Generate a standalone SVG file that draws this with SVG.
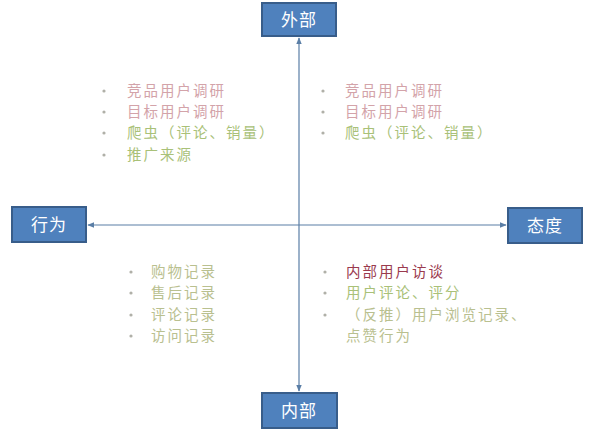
<svg xmlns="http://www.w3.org/2000/svg" width="599" height="432" viewBox="0 0 599 432">
<style>
.box{fill:#4f81bd;stroke:#385d8a;stroke-width:2}
.bt{font-family:"Noto Sans CJK SC","Liberation Sans",sans-serif;font-size:17px;fill:#ffffff;text-anchor:middle;letter-spacing:1px}
.t{font-family:"Noto Sans CJK SC","Liberation Sans",sans-serif;font-size:14.5px;letter-spacing:2px}
.pink{fill:#d3a3a9}
.green{fill:#a9c178}
.lg{fill:#b9c08f}
.red{fill:#9a3a4e}
.dot{fill:#b0b0a8}
.ax{stroke:#5a7ea6;stroke-width:1.2;fill:none}
</style>
<defs>
<marker id="ah" viewBox="0 0 10 10" refX="9" refY="5" markerWidth="7" markerHeight="7" orient="auto-start-reverse" markerUnits="userSpaceOnUse">
<path d="M0,1 L10,5 L0,9 z" fill="#5a7ea6"/>
</marker>
</defs>
<rect width="599" height="432" fill="#ffffff"/>
<g id="connectors">
<line class="ax" x1="299" y1="38" x2="299" y2="391" marker-start="url(#ah)" marker-end="url(#ah)"/>
<line class="ax" x1="88" y1="225" x2="506" y2="225" marker-start="url(#ah)" marker-end="url(#ah)"/>
</g>
<g id="node-top">
<rect class="box" x="262" y="3" width="74" height="33"/>
<text class="bt" x="299" y="26">外部</text>
</g>
<g id="node-left">
<rect class="box" x="12" y="207" width="74" height="35"/>
<text class="bt" x="49" y="231">行为</text>
</g>
<g id="node-right">
<rect class="box" x="508" y="208" width="74" height="35"/>
<text class="bt" x="545" y="232">态度</text>
</g>
<g id="node-bottom">
<rect class="box" x="262" y="393" width="75" height="35"/>
<text class="bt" x="299" y="417">内部</text>
</g>
<g id="list-top-left">
<circle class="dot" cx="104" cy="91" r="1.6"/><text class="t pink" x="127" y="96">竞品用户调研</text>
<circle class="dot" cx="104" cy="112" r="1.6"/><text class="t pink" x="127" y="117">目标用户调研</text>
<circle class="dot" cx="104" cy="133" r="1.6"/><text class="t green" x="127" y="138">爬虫（评论、销量）</text>
<circle class="dot" cx="104" cy="155" r="1.6"/><text class="t green" x="127" y="160">推广来源</text>
</g>
<g id="list-top-right">
<circle class="dot" cx="323" cy="91" r="1.6"/><text class="t pink" x="345" y="96">竞品用户调研</text>
<circle class="dot" cx="323" cy="112" r="1.6"/><text class="t pink" x="345" y="117">目标用户调研</text>
<circle class="dot" cx="323" cy="133" r="1.6"/><text class="t green" x="345" y="138">爬虫（评论、销量）</text>
</g>
<g id="list-bottom-left">
<circle class="dot" cx="131" cy="272" r="1.6"/><text class="t lg" x="151" y="277">购物记录</text>
<circle class="dot" cx="131" cy="293" r="1.6"/><text class="t lg" x="151" y="298">售后记录</text>
<circle class="dot" cx="131" cy="315" r="1.6"/><text class="t lg" x="151" y="320">评论记录</text>
<circle class="dot" cx="131" cy="336" r="1.6"/><text class="t lg" x="151" y="341">访问记录</text>
</g>
<g id="list-bottom-right">
<circle class="dot" cx="325" cy="272" r="1.6"/><text class="t red" x="346" y="277">内部用户访谈</text>
<circle class="dot" cx="325" cy="293" r="1.6"/><text class="t green" x="346" y="298">用户评论、评分</text>
<circle class="dot" cx="325" cy="315" r="1.6"/><text class="t lg" x="346" y="320">（反推）用户浏览记录、</text>
<text class="t lg" x="346" y="341">点赞行为</text>
</g>
</svg>
